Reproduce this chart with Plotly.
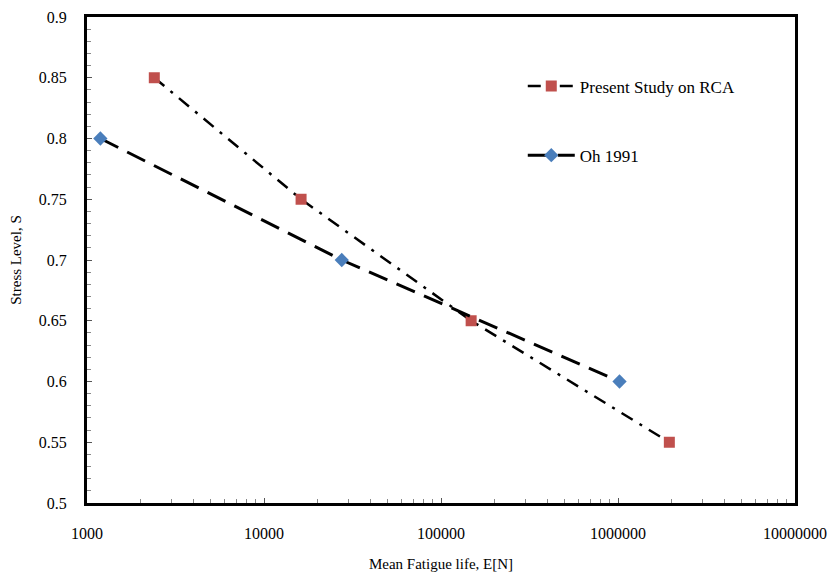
import plotly.graph_objects as go

# Data
present_life = [2400, 16200, 148000, 1950000]
present_stress = [0.85, 0.75, 0.65, 0.55]
oh_life = [1190, 27500, 1020000]
oh_stress = [0.80, 0.70, 0.60]

x_ticks = [1000, 10000, 100000, 1000000, 10000000]
x_ticklabels = ["1000", "10000", "100000", "1000000", "10000000"]
y_ticks = [0.5, 0.55, 0.6, 0.65, 0.7, 0.75, 0.8, 0.85, 0.9]
y_ticklabels = ["0.5", "0.55", "0.6", "0.65", "0.7", "0.75", "0.8", "0.85", "0.9"]

FONT = "Liberation Serif"

fig = go.Figure()
fig.add_trace(go.Scatter(
    x=present_life, y=present_stress, mode="lines+markers",
    name="Present Study on RCA", legendgroup="a",
    line=dict(color="black", width=2.5, dash="13px,8px,3px,8px"),
    marker=dict(symbol="square", size=11, color="#C0504D"),
))
fig.add_trace(go.Scatter(
    x=oh_life, y=oh_stress, mode="lines+markers",
    name="Oh 1991", legendgroup="b",
    line=dict(color="black", width=3, dash="20px,10px"),
    marker=dict(symbol="diamond", size=11, color="#4A7EBB"),
))

fig.update_layout(
    width=830, height=575,
    margin=dict(l=87, r=35, t=17, b=72),
    paper_bgcolor="white", plot_bgcolor="white",
    font=dict(family=FONT, size=14, color="black"),
    showlegend=True,
    legend=dict(
        x=0.6155, y=0.786, xanchor="left", yanchor="middle",
        bgcolor="rgba(0,0,0,0)", tracegroupgap=44,
        traceorder="grouped", itemwidth=47,
        font=dict(family=FONT, size=17),
    ),
    xaxis=dict(
        type="log", range=[3, 7], automargin=False,
        tickvals=x_ticks, ticktext=x_ticklabels,
        ticks="inside", ticklen=5, tickwidth=1, tickcolor="#555",
        minor=dict(ticks="inside", ticklen=4, tickcolor="#888", dtick="D1", showgrid=False),
        showline=True, linewidth=3, linecolor="black", mirror=True,
        showgrid=False, zeroline=False,
        ticklabelstandoff=14,
        tickfont=dict(family=FONT, size=16),
        title=dict(text="Mean Fatigue life, E[N]", font=dict(family=FONT, size=15), standoff=18),
    ),
    yaxis=dict(
        range=[0.5, 0.9], automargin=False,
        tickvals=y_ticks, ticktext=y_ticklabels,
        ticks="inside", ticklen=5, tickwidth=1, tickcolor="#555",
        minor=dict(ticks="inside", ticklen=4, tickcolor="#888", dtick=0.01, showgrid=False),
        showline=True, linewidth=3, linecolor="black", mirror=True,
        showgrid=False, zeroline=False,
        ticklabelstandoff=14,
        tickfont=dict(family=FONT, size=16),
        title=dict(text="Stress Level, S", font=dict(family=FONT, size=15), standoff=14),
    ),
)

fig.write_html("out.html")
